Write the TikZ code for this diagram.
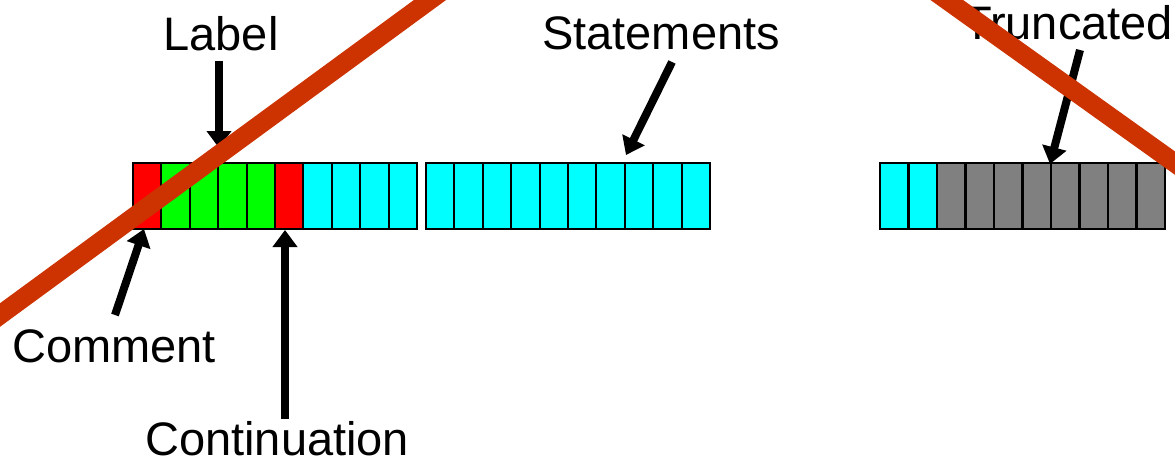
\documentclass[tikz,border=0pt]{standalone}
\usepackage{fontspec}
\setmainfont{Liberation Sans}
\usetikzlibrary{arrows.meta}
\definecolor{strike}{HTML}{CC3300}
\definecolor{cellred}{HTML}{FF0000}
\definecolor{cellgreen}{HTML}{00FF00}
\definecolor{cellcyan}{HTML}{00FFFF}
\definecolor{cellgray}{HTML}{808080}
\tikzset{
  cell/.style={draw=black, line width=2pt, minimum width=28.45pt, minimum height=66pt, inner sep=0pt, outer sep=0pt, anchor=north west},
  txt/.style={inner sep=0pt, text depth=0pt, font=\fontsize{47}{52}\selectfont},
  ptr/.style={line width=8pt, -{Triangle[length=17pt,width=24pt]}},
  cross/.style={line width=19pt, strike}
}
\begin{document}
\begin{tikzpicture}[x=1pt,y=-1pt]
\useasboundingbox (0,0) rectangle (1175,460);
\clip (0,0) rectangle (1175,460);
% group 1
\foreach \i/\c in {0/cellred,1/cellgreen,2/cellgreen,3/cellgreen,4/cellgreen,5/cellred,6/cellcyan,7/cellcyan,8/cellcyan,9/cellcyan}{
  \node[cell, fill=\c] (a\i) at ({133+28.4*\i},163) {};
}
% group 2
\foreach \i in {0,...,9}{
  \node[cell, fill=cellcyan] (b\i) at ({426+28.4*\i},163) {};
}
% group 3
\foreach \i/\c in {0/cellcyan,1/cellcyan,2/cellgray,3/cellgray,4/cellgray,5/cellgray,6/cellgray,7/cellgray,8/cellgray,9/cellgray}{
  \node[cell, fill=\c] (g\i) at ({880+28.5*\i},163) {};
}
% texts
\node[txt, anchor=base] (label) at (221,51) {Label};
\node[txt, anchor=base] (stmts) at (661,50) {Statements};
\node[txt, anchor=base west] (trunc) at (963,40) {Truncated};
\node[txt, anchor=base west] (comment) at (12,362) {Comment};
\node[txt, anchor=base west] (cont) at (145,455) {Continuation};
% arrow ends
\coordinate (labS) at (219,61);
\coordinate (labT) at (219,148);
\coordinate (stS) at (672,62);
\coordinate (stT) at (626,155);
\coordinate (trS) at (1080,50);
\coordinate (trT) at (1050,164);
\coordinate (coS) at (115,315);
\coordinate (coT) at (144,229);
\coordinate (cnS) at (285,419);
\coordinate (cnT) at (285,230);
\draw[ptr] (labS) -- (labT);
\draw[ptr] (stS) -- (stT);
\draw[ptr] (trS) -- (trT);
\draw[ptr] (coS) -- (coT);
\draw[ptr] (cnS) -- (cnT);
% strike lines
\coordinate (x1a) at (-30,337);
\coordinate (x1b) at (460,-22);
\coordinate (x2a) at (930,-12);
\coordinate (x2b) at (1200,181);
\draw[cross] (x1a) -- (x1b);
\draw[cross] (x2a) -- (x2b);
\end{tikzpicture}
\end{document}
